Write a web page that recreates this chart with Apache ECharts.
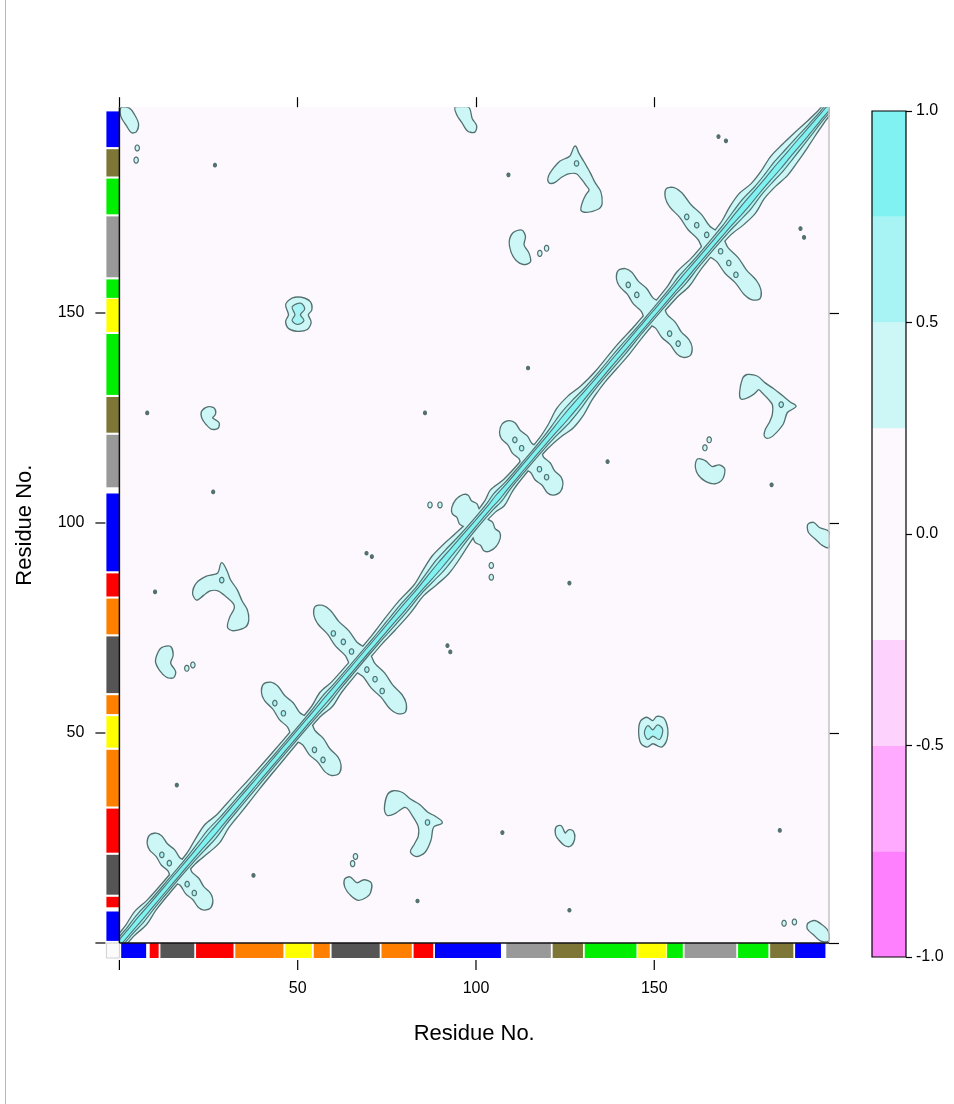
<!DOCTYPE html>
<html>
<head>
<meta charset="utf-8">
<script src="https://cdn.jsdelivr.net/npm/echarts@6/dist/echarts.min.js"></script>
<style>
  html, body {margin: 0; padding: 0; background: #fff;}
  #main {width: 954px; height: 1104px;}
</style>
</head>
<body>
<div id="main"></div>
<script>
var chart = echarts.init(document.getElementById('main'))

// colour key
var levels = [-1, -0.75, -0.5, -0.25, 0.25, 0.5, 0.75, 1]
var levelColors = ['#ff80ff', '#ffa9ff', '#fdd3fd', '#fdf8fd', '#cdf7f7', '#a8f4f4', '#80f2f2']

// axis ticks
var resTicks = [0, 50, 100, 150]
var resLabels = [50, 100, 150]
var keyTicks = [-1, -0.5, 0, 0.5, 1]

// secondary structure blocks along both axes (residue ranges)
var ssStart = [0.5, 8.5, 11.5, 21.5, 32.5, 46.5, 54.5, 59.5, 73.5, 82.5, 88.5, 108.5, 121.5, 130.5, 145.5, 153.6, 158.5, 173.5, 182.5, 189.5]
var ssEnd = [7.5, 11, 21, 32, 46, 54, 59, 73, 82, 88, 107, 121, 130, 145, 153.4, 158, 173, 182, 189, 198]
var ssType = ['blue', 'red', 'dgray', 'red', 'orange', 'yellow', 'orange', 'dgray', 'orange', 'red', 'blue', 'gray', 'olive', 'green', 'yellow', 'green', 'gray', 'green', 'olive', 'blue']
var ssPalette = {blue: '#0000ff', red: '#ff0000', dgray: '#555555', orange: '#ff8000', yellow: '#ffff00', gray: '#999999', olive: '#7d7636', green: '#00ee00'}

// diagonal band: position along diagonal and |y-x| reach of each contour level
var diagT = [0, 3, 6, 9, 13, 20, 23, 26, 29, 33, 38, 45, 55, 58, 61, 72, 76, 80, 84, 87, 90, 93, 96, 100, 104, 106, 109, 113, 119, 122, 125, 128, 131, 135, 141, 146, 155, 158, 162, 170, 173, 176, 179, 182, 185, 188, 191, 194, 197, 199]
var diagW25 = [1.6, 2.2, 3.0, 2.2, 2.0, 2.2, 3.2, 4.0, 3.0, 2.8, 2.4, 2.2, 2.2, 3.2, 2.4, 2.2, 2.6, 2.8, 2.4, 3.4, 4.2, 3.8, 3.0, 2.2, 2.6, 3.6, 2.4, 2.0, 2.2, 3.0, 4.4, 4.2, 3.0, 2.4, 2.6, 2.2, 2.4, 3.2, 2.4, 2.6, 3.8, 4.4, 3.4, 3.6, 4.4, 4.0, 3.4, 2.6, 2.0, 1.6]
var diagW50 = [1.0, 1.3, 1.6, 1.3, 1.2, 1.3, 1.6, 1.9, 1.5, 1.4, 1.3, 1.2, 1.3, 1.6, 1.3, 1.2, 1.4, 1.5, 1.3, 1.7, 2.1, 1.9, 1.5, 1.3, 1.4, 1.8, 1.3, 1.2, 1.3, 1.6, 2.1, 2.0, 1.5, 1.3, 1.4, 1.2, 1.3, 1.6, 1.3, 1.4, 1.8, 2.1, 1.7, 1.8, 2.1, 1.9, 1.7, 1.4, 1.2, 1.0]
var diagW75 = [0.5, 0.6, 0.7, 0.6, 0.6, 0.6, 0.7, 0.8, 0.7, 0.7, 0.6, 0.6, 0.6, 0.7, 0.6, 0.6, 0.6, 0.7, 0.6, 0.8, 0.9, 0.8, 0.7, 0.6, 0.6, 0.8, 0.6, 0.6, 0.6, 0.7, 0.9, 0.9, 0.7, 0.6, 0.6, 0.6, 0.6, 0.7, 0.6, 0.6, 0.8, 0.9, 0.8, 0.8, 0.9, 0.8, 0.8, 0.7, 0.6, 0.5]

// cross-shaped arms (centre on diagonal, arm length, half width)
var crossT = [17, 51, 67.5, 100, 115.5, 150, 166.5]
var crossLen = [8.5, 10.5, 12.5, 5.5, 8, 10, 13]
var crossHalf = [1.5, 1.6, 1.5, 2.0, 1.7, 1.5, 1.5]

// off-diagonal patches (upper triangle, mirrored below)
var blobA = [[20.7, 83.3], [21.7, 85.6], [24.5, 87.2], [27.7, 88.0], [28.7, 90.4], [30.1, 88.4], [31.0, 86.4], [32.9, 84.0], [34.3, 81.3], [35.7, 79.3], [36.1, 76.9], [35.2, 75.3], [31.9, 74.5], [30.5, 75.2], [31.0, 77.3], [32.4, 79.7], [32.1, 80.9], [30.1, 82.5], [27.7, 84.0], [25.4, 84.0], [23.5, 82.9], [21.7, 81.8]]
var blobB = [[11.9, 70.2], [14.2, 70.5], [14.9, 68.6], [14.2, 66.6], [15.6, 64.6], [15.1, 63.3], [13.3, 63.4], [11.4, 65.0], [10.3, 67.0], [10.9, 69.0]]
var blobC = [[120.3, 181.7], [120.8, 183.1], [123.6, 186.0], [126.4, 187.2], [127.8, 189.6], [128.7, 188.0], [130.1, 186.0], [131.9, 183.3], [133.3, 180.9], [134.8, 178.9], [135.2, 176.1], [134.3, 174.9], [131.0, 174.1], [129.6, 174.5], [130.1, 176.5], [131.0, 178.1], [131.9, 179.3], [131.0, 180.5], [129.6, 182.1], [128.2, 183.3], [125.9, 183.3], [124.0, 182.5], [122.2, 181.3], [120.8, 181.0]]
var blobD = [[110.5, 169], [112.8, 169.6], [113.7, 168.2], [113.3, 166.2], [114.7, 164.2], [115.1, 162.2], [113.3, 161.7], [111.4, 162.6], [110, 164.6], [109.5, 167]]
var blobE = [[46.8, 152], [48.5, 153.4], [51, 153.6], [53.4, 152.6], [53.8, 150.8], [52.8, 149.6], [53.6, 147.8], [52.6, 146.2], [50, 145.8], [47.6, 146.4], [46.8, 148], [47.6, 149.6]]
var blobEInner = [[48.6, 151.4], [50.8, 152.2], [51.8, 151], [50.6, 149.6], [51.6, 148.2], [50, 147.4], [48.6, 148.2], [49.4, 149.6]]
var blobF = [[94.3, 198.9], [94.8, 197.2], [96.2, 195.4], [97.8, 193.4], [99.6, 193.2], [100, 194.6], [98.8, 196.2], [97.8, 198.9]]
var blobG = [[0.6, 198.8], [2.8, 198.6], [4.2, 197], [5.2, 195], [4.6, 193.2], [3.4, 193.1], [2.2, 194.6], [0.6, 196.8]]
var blobH = [[23.2, 126.5], [24.8, 127.5], [26.5, 127.2], [26.8, 126], [26, 125], [27.8, 123.8], [27.5, 122.6], [25.8, 122.5], [24.5, 123.5], [23.3, 125]]

// small closed contours
var ringPts = [[5, 189.3], [4.7, 186.4], [18.9, 65.4], [20.6, 66.2], [117.9, 164.2], [119.8, 165.4], [87.1, 104.3], [89.9, 104.3]]
var dotPts = [[26.8, 185.2], [10, 83.6], [16.1, 37.6], [69.3, 92.8], [70.8, 92.0], [109.1, 182.9], [168, 192], [170.1, 191], [7.8, 126.2], [26.3, 107.4], [85.7, 126.2], [114.6, 136.9]]
var innerPts = [[11.9, 21], [14, 19], [43.6, 57.1], [46, 54.7], [60, 73.7], [62.8, 71.7], [65.1, 69.4], [110.9, 119.8], [112.8, 117.8], [142.7, 156.7], [145.1, 154.3], [159.1, 172.9], [161.9, 170.9], [164.7, 168.6], [28.7, 86.4], [128.2, 185.6]]

var fontFamily = 'Liberation Sans, Arial, sans-serif'
var lineColor = '#537070'

function mirror(pts) {
  return pts.map(function (p) { return [p[1], p[0]] })
}

// band around the diagonal reaching |y-x| = w
function band(w) {
  var up = diagT.map(function (t, i) { return [t - w[i] / 2, t + w[i] / 2] })
  var low = diagT.map(function (t, i) { return [t + w[i] / 2, t - w[i] / 2] }).reverse()
  return up.concat(low)
}

// one arm of a cross, running up-left from the diagonal
var armFrac = [0, 0.2, 0.4, 0.6, 0.8, 0.93]
var armMult = [1.3, 1.0, 1.15, 0.95, 1.05, 0.75]
function arm(c, a, h) {
  var side1 = [], side2 = []
  armFrac.forEach(function (f, k) {
    var s = f * a, q = h * armMult[k]
    side1.push([c - s + q, c + s + q])
    side2.push([c - s - q, c + s - q])
  })
  return side1.concat([[c - a, c + a]], side2.reverse())
}

var shapes25 = [band(diagW25)]
crossT.forEach(function (c, i) {
  var p = arm(c, crossLen[i], crossHalf[i])
  shapes25.push(p, mirror(p))
})
;[blobA, blobB, blobC, blobD, blobE, blobF, blobG, blobH].forEach(function (b) {
  shapes25.push(b, mirror(b))
})
var shapes50 = [band(diagW50), blobEInner, mirror(blobEInner)]
var shapes75 = [band(diagW75)]

var loops = []
ringPts.forEach(function (p) { loops.push([p[0], p[1], 0], [p[1], p[0], 0]) })
dotPts.forEach(function (p) { loops.push([p[0], p[1], 1], [p[1], p[0], 1]) })
innerPts.forEach(function (p) { loops.push([p[0], p[1], 2], [p[1], p[0], 2]) })

function polySeries(shapes, style, z) {
  return {
    type: 'custom', xAxisIndex: 0, yAxisIndex: 0, z: z, clip: true, silent: true,
    data: shapes.map(function (s, i) { return [i, i] }),
    renderItem: function (params, api) {
      var pts = shapes[params.dataIndex].map(function (p) { return api.coord(p) })
      return {type: 'polygon', shape: {points: pts, smooth: 0.3}, style: style}
    }
  }
}

var loopSize = [[2.2, 3], [1.5, 1.8], [2.2, 2.8]]
var loopFill = [levelColors[4], lineColor, levelColors[5]]

var outerTick = {show: true, length: 10, customValues: resTicks, lineStyle: {color: '#000', width: 1.2}}

var option = {
  backgroundColor: '#ffffff',
  animation: false,
  graphic: [
    {type: 'line', shape: {x1: 5.5, y1: 0, x2: 5.5, y2: 1104}, style: {stroke: '#b8b8b8', lineWidth: 1}}
  ],
  grid: [
    {left: 119.4, top: 107.2, width: 709.6, height: 835.8, show: true, backgroundColor: levelColors[3], borderWidth: 0},
    {left: 872, top: 111, width: 34, height: 846}
  ],
  xAxis: [
    {
      gridIndex: 0, type: 'value', min: 0, max: 199, position: 'bottom', offset: 16,
      axisLine: {show: false, onZero: false}, splitLine: {show: false}, axisTick: {show: false},
      axisLabel: {customValues: resLabels, fontSize: 16, color: '#000', margin: 22, fontFamily: fontFamily},
      name: 'Residue No.', nameLocation: 'middle', nameGap: 64,
      nameTextStyle: {fontSize: 22, color: '#000', fontFamily: fontFamily}
    },
    {
      gridIndex: 0, type: 'value', min: 0, max: 199, position: 'top',
      axisLine: {show: false, onZero: false}, splitLine: {show: false}, axisLabel: {show: false},
      axisTick: outerTick
    },
    {gridIndex: 1, type: 'value', min: 0, max: 1, show: false}
  ],
  yAxis: [
    {
      gridIndex: 0, type: 'value', min: 0, max: 199, position: 'left', offset: 13,
      axisLine: {show: false, onZero: false}, splitLine: {show: false}, axisTick: {show: false},
      axisLabel: {customValues: resLabels, fontSize: 16, color: '#000', margin: 22, fontFamily: fontFamily},
      name: 'Residue No.', nameLocation: 'middle', nameGap: 70, nameRotate: 90,
      nameTextStyle: {fontSize: 22, color: '#000', fontFamily: fontFamily}
    },
    {
      gridIndex: 0, type: 'value', min: 0, max: 199, position: 'right',
      axisLine: {show: false, onZero: false}, splitLine: {show: false}, axisLabel: {show: false},
      axisTick: outerTick
    },
    {
      gridIndex: 1, type: 'value', min: -1, max: 1, position: 'right',
      axisLine: {show: false, onZero: false}, splitLine: {show: false},
      axisTick: {show: true, length: 6, customValues: keyTicks, lineStyle: {color: '#000', width: 1.2}},
      axisLabel: {customValues: keyTicks, fontSize: 16, color: '#000', margin: 10, fontFamily: fontFamily,
        formatter: function (v) { return v.toFixed(1) }}
    }
  ],
  series: [
    // secondary structure strips
    {
      type: 'custom', xAxisIndex: 0, yAxisIndex: 0, clip: false, silent: true, z: 1,
      data: ssStart.map(function (s, i) { return [s, ssEnd[i]] }),
      renderItem: function (params, api) {
        var cs = params.coordSys
        var s = api.value(0), e = api.value(1)
        var x0 = api.coord([s, 0])[0], x1 = api.coord([e, 0])[0]
        var y0 = api.coord([0, e])[1], y1 = api.coord([0, s])[1]
        var color = ssPalette[ssType[params.dataIndex]]
        return {type: 'group', children: [
          {type: 'rect', shape: {x: x0, y: cs.y + cs.height, width: x1 - x0, height: 15}, style: {fill: color}},
          {type: 'rect', shape: {x: cs.x - 13, y: y0, width: 13, height: y1 - y0}, style: {fill: color}}
        ]}
      }
    },
    polySeries(shapes25, {fill: 'none', stroke: lineColor, lineWidth: 2.6}, 2),
    polySeries(shapes25, {fill: levelColors[4]}, 3),
    {
      type: 'custom', xAxisIndex: 0, yAxisIndex: 0, clip: true, silent: true, z: 4,
      data: loops,
      renderItem: function (params, api) {
        var c = api.coord([api.value(0), api.value(1)])
        var kind = api.value(2)
        var r = loopSize[kind]
        var pts = []
        for (var k = 0; k < 14; k++) {
          var a = k / 14 * Math.PI * 2
          pts.push([c[0] + r[0] * Math.cos(a), c[1] + r[1] * Math.sin(a)])
        }
        return {type: 'polygon', shape: {points: pts}, style: {fill: loopFill[kind], stroke: lineColor, lineWidth: 1.2}}
      }
    },
    polySeries(shapes50, {fill: 'none', stroke: lineColor, lineWidth: 2.4}, 5),
    polySeries(shapes50, {fill: levelColors[5]}, 6),
    polySeries(shapes75, {fill: 'none', stroke: lineColor, lineWidth: 2.2}, 7),
    polySeries(shapes75, {fill: levelColors[6]}, 8),
    // panel frame and the outer ticks past the strips
    {
      type: 'custom', xAxisIndex: 0, yAxisIndex: 0, clip: false, silent: true, z: 9,
      data: resTicks.map(function (v) { return [v, v] }),
      renderItem: function (params, api) {
        var cs = params.coordSys
        var b = cs.y + cs.height
        var v = api.value(0)
        var px = api.coord([v, 0])[0], py = api.coord([0, v])[1]
        var tickStyle = {stroke: '#000', lineWidth: 1.2}
        var children = [
          {type: 'line', shape: {x1: px, y1: b + 17, x2: px, y2: b + 27}, style: tickStyle},
          {type: 'line', shape: {x1: cs.x - 14, y1: py, x2: cs.x - 24, y2: py}, style: tickStyle}
        ]
        if (params.dataIndex === 0) {
          children.push(
            {type: 'rect', shape: {x: cs.x - 13, y: b, width: 13, height: 15}, style: {fill: '#fbfbfb', stroke: '#d0d0d0', lineWidth: 1}},
            {type: 'line', shape: {x1: cs.x + cs.width, y1: cs.y, x2: cs.x + cs.width, y2: b}, style: {stroke: '#c4c4c4', lineWidth: 1.5}},
            {type: 'line', shape: {x1: cs.x, y1: cs.y, x2: cs.x, y2: b}, style: {stroke: '#111', lineWidth: 1.5}},
            {type: 'line', shape: {x1: cs.x, y1: b, x2: cs.x + cs.width, y2: b}, style: {stroke: '#111', lineWidth: 1.5}}
          )
        }
        return {type: 'group', children: children}
      }
    },
    // colour key
    {
      type: 'custom', xAxisIndex: 2, yAxisIndex: 2, silent: true, z: 2,
      data: levelColors.map(function (c, i) { return [0.5, levels[i]] }),
      renderItem: function (params, api) {
        var i = params.dataIndex
        var p0 = api.coord([0, levels[i + 1]])
        var p1 = api.coord([1, levels[i]])
        return {type: 'rect', shape: {x: p0[0], y: p0[1], width: p1[0] - p0[0], height: p1[1] - p0[1]}, style: {fill: levelColors[i]}}
      }
    },
    {
      type: 'custom', xAxisIndex: 2, yAxisIndex: 2, silent: true, z: 3,
      data: [[0.5, 0]],
      renderItem: function (params, api) {
        var cs = params.coordSys
        return {type: 'rect', shape: {x: cs.x, y: cs.y, width: cs.width, height: cs.height}, style: {fill: 'none', stroke: '#000', lineWidth: 1.2}}
      }
    }
  ]
}

chart.setOption(option)
</script>
</body>
</html>
